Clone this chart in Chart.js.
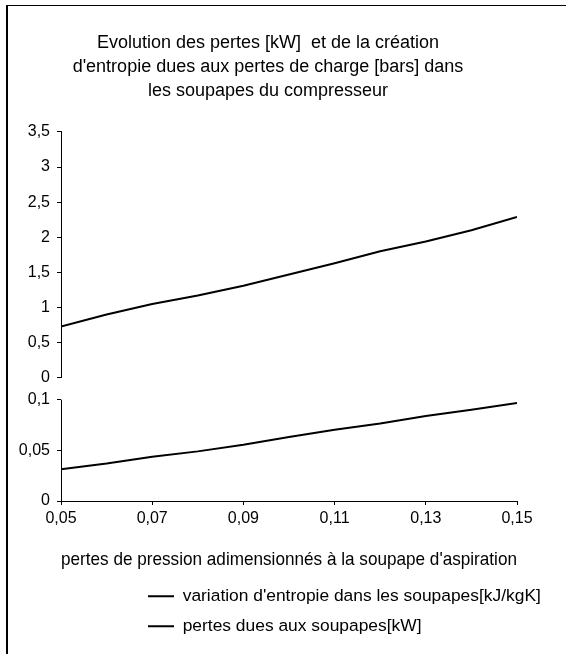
<!DOCTYPE html>
<html lang="fr">
<head>
<meta charset="utf-8">
<title>Pertes dans les soupapes</title>
<script src="https://cdn.jsdelivr.net/npm/chart.js@4/dist/chart.umd.min.js"></script>
<style>
    html, body { margin: 0; padding: 0; background: #fff; }
    #wrap { position: relative; width: 566px; height: 654px; overflow: hidden; }
    #frame {
        position: absolute; left: 6px; top: 5px; width: 600px; height: 700px;
        border-left: 2px solid #000; border-top: 1px solid #000;
        pointer-events: none;
    }
</style>
</head>
<body>
<div id="wrap">
    <canvas id="chart"></canvas>
    <div id="frame"></div>
</div>
<script>
// pertes de pression adimensionnées (axe x)
const pressureLoss = [0.05, 0.06, 0.07, 0.08, 0.09, 0.10, 0.11, 0.12, 0.13, 0.14, 0.15];
// variation d'entropie [kJ/kgK] (panneau du bas)
const entropyValues = [0.0314, 0.037, 0.0438, 0.049, 0.0555, 0.0632, 0.0703, 0.0765, 0.084, 0.090, 0.0967];
// pertes dues aux soupapes [kW] (panneau du haut)
const lossValues = [0.73, 0.90, 1.05, 1.17, 1.31, 1.47, 1.63, 1.80, 1.94, 2.10, 2.29];

const xTicks = [0.05, 0.07, 0.09, 0.11, 0.13, 0.15];
const xTickLabels = ['0,05', '0,07', '0,09', '0,11', '0,13', '0,15'];
const topTicks = [0, 0.5, 1, 1.5, 2, 2.5, 3, 3.5];
const topTickLabels = ['0', '0,5', '1', '1,5', '2', '2,5', '3', '3,5'];
const bottomTicks = [0, 0.05, 0.1];
const bottomTickLabels = ['0', '0,05', '0,1'];

const titleLines = [
    'Evolution des pertes [kW]  et de la création',
    "d'entropie dues aux pertes de charge [bars] dans",
    'les soupapes du compresseur'
];
const xTitle = "pertes de pression adimensionnés à la soupape d'aspiration";
const seriesNames = [
    "variation d'entropie dans les soupapes[kJ/kgK]",
    'pertes dues aux soupapes[kW]'
];

const FONT = "'Liberation Sans', Arial, sans-serif";
const BOTTOM_MAX = 0.1218; // laisse un petit vide entre les deux panneaux
const LEGEND_X = 148;

function toPoints(values) {
    return pressureLoss.map((x, i) => ({ x: x, y: values[i] }));
}

// tick marks only, black, outside
const tickGrid = { drawOnChartArea: false, drawTicks: true, tickLength: 4, color: '#000' };
const tickFont = { family: FONT, size: 16 };

// trait d'axe du panneau du bas (s'arrête à 0,1)
const bottomAxisLine = {
    id: 'bottomAxisLine',
    afterDraw(chart) {
        const s = chart.scales.y2;
        const ctx = chart.ctx;
        const x = Math.round(chart.chartArea.left) + 0.5;
        ctx.save();
        ctx.strokeStyle = '#000';
        ctx.lineWidth = 1;
        ctx.beginPath();
        ctx.moveTo(x, s.getPixelForValue(0));
        ctx.lineTo(x, s.getPixelForValue(0.1));
        ctx.stroke();
        ctx.restore();
    }
};

// décale la légende vers la droite comme dans l'original
const legendShift = {
    id: 'legendShift',
    afterLayout(chart) {
        const lg = chart.legend;
        const dx = LEGEND_X - lg.left - lg.options.labels.padding;
        lg.left += dx;
        lg.right += dx;
    }
};

const ctx = document.getElementById('chart').getContext('2d');
new Chart(ctx, {
    type: 'line',
    data: {
        datasets: [{
            label: seriesNames[0],
            data: toPoints(entropyValues),
            yAxisID: 'y2',
            borderColor: '#000',
            borderWidth: 2,
            pointRadius: 0,
            tension: 0
        }, {
            label: seriesNames[1],
            data: toPoints(lossValues),
            yAxisID: 'y',
            borderColor: '#000',
            borderWidth: 2,
            pointRadius: 0,
            tension: 0
        }]
    },
    options: {
        responsive: true,
        maintainAspectRatio: false,
        animation: false,
        layout: { padding: { left: 19, right: 49, top: 0, bottom: 9 } },
        plugins: {
            title: {
                display: true,
                text: titleLines,
                color: '#000',
                font: { family: FONT, size: 18, weight: 'normal', lineHeight: 1.333 },
                padding: { top: 31, bottom: 29 }
            },
            legend: {
                position: 'bottom',
                align: 'start',
                labels: {
                    color: '#000',
                    font: { family: FONT, size: 17.4 },
                    usePointStyle: true,
                    pointStyle: 'line',
                    pointStyleWidth: 26,
                    padding: 12.6
                }
            },
            tooltip: { enabled: false }
        },
        scales: {
            x: {
                type: 'linear',
                min: 0.05,
                max: 0.15,
                afterBuildTicks: (scale) => { scale.ticks = xTicks.map(v => ({ value: v })); },
                ticks: {
                    color: '#000',
                    font: tickFont,
                    padding: 4,
                    maxRotation: 0,
                    callback: (v, i) => xTickLabels[i]
                },
                grid: tickGrid,
                border: { color: '#000', width: 1 },
                title: {
                    display: true,
                    text: xTitle,
                    color: '#000',
                    font: { family: FONT, size: 19 },
                    padding: { top: 16, bottom: 4 }
                }
            },
            y2: {
                type: 'linear',
                position: 'left',
                stack: 'panels',
                stackWeight: 123,
                min: 0,
                max: BOTTOM_MAX,
                afterBuildTicks: (scale) => { scale.ticks = bottomTicks.map(v => ({ value: v })); },
                afterFit: (scale) => { scale.width = 42; },
                ticks: {
                    color: '#000',
                    font: tickFont,
                    padding: 7,
                    callback: (v, i) => bottomTickLabels[i]
                },
                grid: tickGrid,
                border: { display: false }
            },
            y: {
                type: 'linear',
                position: 'left',
                stack: 'panels',
                stackWeight: 245,
                min: 0,
                max: 3.5,
                afterBuildTicks: (scale) => { scale.ticks = topTicks.map(v => ({ value: v })); },
                afterFit: (scale) => { scale.width = 42; },
                ticks: {
                    color: '#000',
                    font: tickFont,
                    padding: 7,
                    callback: (v, i) => topTickLabels[i]
                },
                grid: tickGrid,
                border: { color: '#000', width: 1 }
            }
        }
    },
    plugins: [bottomAxisLine, legendShift]
});
</script>
</body>
</html>
